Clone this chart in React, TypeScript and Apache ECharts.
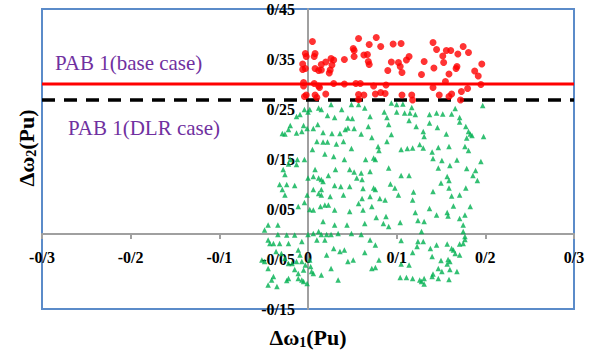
import React, { useEffect, useRef } from 'react';
import * as echarts from 'echarts';

const xTickValues = [-0.3, -0.2, -0.1, 0, 0.1, 0.2, 0.3];
const xTickLabels = ['-0/3', '-0/2', '-0/1', '0', '0/1', '0/2', '0/3'];
const yTickValues = [-0.15, -0.05, 0.05, 0.15, 0.25, 0.35, 0.45];
const yTickLabels = ['-0/15', '-0/05', '0/05', '0/15', '0/25', '0/35', '0/45'];

const baseCaseLimit = 0.3;
const dlrCaseLimit = 0.268;
const limitSpan = [-0.3, 0.3];

const baseCaseLabel = 'PAB 1(base case)';
const dlrCaseLabel = 'PAB 1(DLR case)';

// red circles
const baseCasePoints: number[][] = [
  [0.005, 0.385], [-0.003, 0.361], [-0.002, 0.355], [0.008, 0.361], [0.007, 0.355], [-0.006, 0.340], [-0.006, 0.329],
  [-0.003, 0.331], [0.008, 0.331], [0.012, 0.327], [0.015, 0.328], [0.015, 0.339], [0.020, 0.344], [0.026, 0.351],
  [0.029, 0.348], [0.027, 0.338], [0.025, 0.328], [0.041, 0.349], [0.051, 0.371], [0.052, 0.367], [0.052, 0.355],
  [0.057, 0.391], [0.063, 0.358], [0.067, 0.359], [0.068, 0.345], [0.069, 0.339], [0.069, 0.379], [0.077, 0.393],
  [0.082, 0.375], [0.090, 0.327], [0.094, 0.344], [0.096, 0.380], [0.105, 0.381], [0.102, 0.343], [0.104, 0.335],
  [0.106, 0.323], [0.111, 0.348], [0.114, 0.355], [0.128, 0.319], [0.131, 0.345], [0.141, 0.383], [0.145, 0.369],
  [0.142, 0.332], [0.152, 0.356], [0.153, 0.343], [0.156, 0.367], [0.161, 0.367], [0.167, 0.331], [0.168, 0.335],
  [0.159, 0.320], [0.169, 0.360], [0.175, 0.375], [0.181, 0.363], [0.188, 0.326], [0.192, 0.316], [0.196, 0.340],
  [-0.005, 0.303], [-0.005, 0.296], [0.007, 0.301], [0.012, 0.296], [0.029, 0.301], [0.041, 0.300], [0.054, 0.301],
  [0.059, 0.301], [0.074, 0.296], [0.076, 0.280], [0.082, 0.283], [0.087, 0.281], [0.088, 0.298], [-0.004, 0.275],
  [-0.002, 0.278], [0.008, 0.278], [0.010, 0.273], [0.020, 0.280], [0.057, 0.279], [0.063, 0.278], [0.057, 0.269],
  [0.106, 0.278], [0.117, 0.278], [0.118, 0.268], [0.141, 0.293], [0.148, 0.278], [0.155, 0.305], [0.159, 0.275],
  [0.162, 0.280], [0.173, 0.285], [0.172, 0.268], [0.180, 0.291], [0.195, 0.299], [0.013, 0.293], [0.024, 0.322],
];

// green triangles
const dlrCasePoints: number[][] = [
  [-0.004, 0.249], [0.000, 0.244], [0.002, 0.249], [0.012, 0.252], [0.015, 0.249], [0.026, 0.259], [0.038, 0.249],
  [0.049, 0.259], [0.057, 0.259], [0.064, 0.252], [-0.013, 0.235], [-0.009, 0.239], [0.022, 0.237], [0.030, 0.233],
  [0.045, 0.232], [0.050, 0.231], [0.070, 0.235], [-0.020, 0.217], [-0.022, 0.209], [-0.026, 0.200], [-0.013, 0.202],
  [-0.007, 0.205], [-0.005, 0.217], [-0.001, 0.211], [0.006, 0.211], [0.011, 0.219], [0.017, 0.203], [0.027, 0.201],
  [0.036, 0.201], [0.042, 0.209], [0.045, 0.212], [0.052, 0.211], [0.060, 0.200], [0.068, 0.215], [0.072, 0.193],
  [0.010, 0.185], [0.017, 0.184], [0.022, 0.184], [0.040, 0.185], [0.032, 0.180], [0.049, 0.171], [0.005, 0.169],
  [0.019, 0.160], [0.029, 0.155], [-0.020, 0.149], [-0.012, 0.149], [-0.004, 0.149], [0.041, 0.149], [0.065, 0.149],
  [0.074, 0.152], [-0.022, 0.140], [-0.013, 0.139], [-0.028, 0.129], [-0.026, 0.119], [0.008, 0.129], [0.031, 0.129],
  [0.047, 0.129], [0.052, 0.124], [0.060, 0.122], [0.070, 0.125], [0.061, 0.109], [0.000, 0.112], [0.006, 0.115],
  [0.012, 0.112], [0.015, 0.109], [0.017, 0.105], [0.023, 0.117], [0.030, 0.097], [0.037, 0.095], [0.047, 0.095],
  [0.055, 0.112], [-0.032, 0.099], [-0.024, 0.099], [-0.015, 0.097], [-0.029, 0.089], [0.006, 0.089], [0.015, 0.089],
  [0.062, 0.091], [0.074, 0.092], [-0.029, 0.201],
  [-0.026, 0.078], [-0.001, 0.078], [0.012, 0.081], [0.015, 0.078], [0.025, 0.075], [0.040, 0.078], [0.061, 0.071],
  [0.070, 0.075], [-0.004, 0.063], [-0.011, 0.055], [0.002, 0.049], [0.006, 0.048], [0.014, 0.055], [0.019, 0.058],
  [0.023, 0.058], [0.030, 0.048], [0.047, 0.045], [0.057, 0.061], [0.062, 0.048], [0.072, 0.055], [0.017, 0.025],
  [0.030, 0.018], [0.044, 0.018], [0.064, 0.021], [-0.045, 0.018], [-0.034, 0.018], [-0.049, 0.008], [-0.034, -0.001],
  [-0.024, -0.002], [-0.015, -0.002], [0.000, -0.001], [0.006, 0.001], [0.012, 0.005], [0.015, -0.001], [0.021, -0.001],
  [0.026, -0.001], [0.034, 0.001], [0.049, 0.001], [0.060, -0.001], [0.070, -0.012], [-0.045, -0.012], [-0.043, -0.019],
  [-0.039, -0.019], [-0.032, -0.019], [-0.022, -0.019], [-0.007, -0.015], [0.010, -0.012], [0.019, -0.012], [0.029, -0.029],
  [0.036, -0.035], [0.041, -0.032], [0.064, -0.037], [-0.036, -0.035], [-0.030, -0.039], [-0.011, -0.032], [-0.009, -0.042],
  [0.021, -0.042], [0.045, -0.055], [0.051, -0.052], [-0.052, -0.052], [-0.049, -0.055], [-0.026, -0.049], [-0.022, -0.059],
  [-0.018, -0.059], [-0.013, -0.055], [-0.007, -0.055], [-0.003, -0.062], [0.002, -0.052], [0.003, -0.065], [-0.005, -0.072],
  [-0.011, -0.079], [-0.015, -0.071], [-0.045, -0.069], [0.026, -0.069], [0.072, -0.069], [0.004, -0.075], [0.006, -0.079],
  [0.015, -0.082], [0.034, -0.092], [-0.011, -0.089], [-0.007, -0.092], [-0.022, -0.089], [-0.024, -0.093], [-0.039, -0.085],
  [-0.041, -0.092], [-0.045, -0.102], [-0.035, -0.105], [-0.005, -0.095], [-0.001, -0.099],
  [0.094, 0.262], [0.100, 0.259], [0.107, 0.260], [0.117, 0.253], [0.166, 0.251], [0.197, 0.257], [0.086, 0.244],
  [0.089, 0.233], [0.100, 0.244], [0.109, 0.242], [0.115, 0.242], [0.121, 0.239], [0.137, 0.239], [0.145, 0.242],
  [0.152, 0.240], [0.162, 0.240], [0.171, 0.233], [0.091, 0.219], [0.114, 0.227], [0.122, 0.215], [0.137, 0.222],
  [0.171, 0.224], [0.178, 0.215], [0.181, 0.205], [0.183, 0.200], [0.185, 0.197], [0.094, 0.199], [0.130, 0.205],
  [0.131, 0.195], [0.146, 0.213], [0.156, 0.200], [0.179, 0.192], [0.198, 0.195], [0.089, 0.185], [0.079, 0.175],
  [0.080, 0.167], [0.105, 0.169], [0.112, 0.171], [0.118, 0.172], [0.126, 0.179], [0.130, 0.172], [0.140, 0.164],
  [0.147, 0.173], [0.159, 0.175], [0.177, 0.175], [0.181, 0.167], [0.076, 0.149], [0.141, 0.151], [0.151, 0.147],
  [0.168, 0.148], [0.195, 0.145], [0.091, 0.132], [0.147, 0.132], [0.160, 0.137], [0.179, 0.131], [0.189, 0.127],
  [0.186, 0.117], [0.105, 0.117], [0.114, 0.117], [0.157, 0.115], [0.159, 0.107], [0.191, 0.107], [0.093, 0.100],
  [0.098, 0.092], [0.150, 0.102], [0.159, 0.092], [0.178, 0.092], [0.076, 0.089], [0.119, 0.084], [0.141, 0.085],
  [0.081, 0.071], [0.087, 0.068], [0.102, 0.078], [0.118, 0.068], [0.162, 0.076], [0.171, 0.078], [0.164, 0.056],
  [0.183, 0.055], [0.137, 0.051], [0.145, 0.038], [0.157, 0.043], [0.158, 0.036], [0.171, 0.031], [0.177, 0.038],
  [0.121, 0.043], [0.077, 0.033], [0.088, 0.035], [0.085, 0.021], [0.091, 0.015], [0.104, 0.023], [0.124, 0.027],
  [0.131, 0.025], [0.175, 0.018], [0.175, 0.005], [0.128, 0.005], [0.177, -0.005], [0.177, -0.011], [0.175, -0.019],
  [0.171, -0.020], [0.076, -0.022], [0.105, -0.013], [0.124, -0.015], [0.130, -0.015], [0.138, -0.029], [0.140, -0.045],
  [0.145, -0.022], [0.157, -0.020], [0.162, -0.029], [0.166, -0.039], [0.171, -0.042], [0.164, -0.032], [0.080, -0.052],
  [0.076, -0.067], [0.105, -0.060], [0.118, -0.037], [0.123, -0.025], [0.114, -0.062], [0.150, -0.053], [0.158, -0.051],
  [0.160, -0.055], [0.157, -0.060], [0.160, -0.071], [0.168, -0.075], [0.147, -0.069], [0.151, -0.075], [0.141, -0.080],
  [0.140, -0.085], [0.104, -0.087], [0.111, -0.087], [0.118, -0.089], [0.126, -0.092], [0.128, -0.095], [0.131, -0.089],
  [0.131, -0.100], [0.147, -0.089], [0.159, -0.091],
];

const FONT = 'Liberation Serif';

function labelFor(values: number[], labels: string[], v: number): string {
  for (let i = 0; i < values.length; i++) {
    if (Math.abs(values[i] - v) < 1e-6) return labels[i];
  }
  return '';
}

export default function App() {
  const ref = useRef<HTMLDivElement>(null);

  useEffect(() => {
    if (!ref.current) return;
    const chart = echarts.init(ref.current, null, { renderer: 'svg' });
    const axisGray = '#A0A0A0';
    const titleRich = {
      a: { fontFamily: FONT, fontSize: 22, fontWeight: 'bold', color: '#000', lineHeight: 24 },
      s: { fontFamily: FONT, fontSize: 14, fontWeight: 'bold', color: '#000', lineHeight: 10, verticalAlign: 'bottom' },
    };
    // grid: left 42, top 9, width 532, height 300 -> zero lines at x=308, y=234
    chart.setOption({
      animation: false,
      backgroundColor: '#ffffff',
      grid: {
        left: 42, top: 9, width: 532, height: 300,
        show: true, borderColor: '#5B8BC9', borderWidth: 2, backgroundColor: 'transparent',
      },
      xAxis: {
        type: 'value', min: -0.3, max: 0.3, interval: 0.1,
        position: 'bottom', offset: -75,
        axisLine: { onZero: false, lineStyle: { color: axisGray, width: 2 } },
        axisTick: { show: true, length: 5, lineStyle: { color: axisGray, width: 2 } },
        axisLabel: {
          formatter: (v: number) => labelFor(xTickValues, xTickLabels, v),
          fontFamily: FONT, fontWeight: 'bold', fontSize: 16, color: '#000', margin: 15,
        },
        splitLine: { show: false },
      },
      yAxis: {
        type: 'value', min: -0.15, max: 0.45, interval: 0.05,
        position: 'left', offset: -266,
        axisLine: { onZero: false, lineStyle: { color: axisGray, width: 2 } },
        axisTick: { show: false },
        axisLabel: {
          formatter: (v: number) => labelFor(yTickValues, yTickLabels, v),
          fontFamily: FONT, fontWeight: 'bold', fontSize: 16, color: '#000', margin: 13,
        },
        splitLine: { show: false },
      },
      series: [
        {
          type: 'scatter', name: 'DLR', data: dlrCasePoints, symbol: 'triangle', symbolSize: 5.5,
          itemStyle: { color: '#00B050' }, z: 2,
        },
        {
          type: 'line', data: limitSpan.map((x) => [x, dlrCaseLimit]), symbol: 'none',
          lineStyle: { color: '#000', width: 3.5, type: [13, 9] }, z: 3,
        },
        {
          type: 'line', data: limitSpan.map((x) => [x, baseCaseLimit]), symbol: 'none',
          lineStyle: { color: '#FF0000', width: 3 }, z: 4,
        },
        {
          type: 'scatter', name: 'base', data: baseCasePoints, symbol: 'circle', symbolSize: 7,
          itemStyle: { color: '#FF0000' }, z: 5,
        },
      ],
      graphic: [
        {
          type: 'text', x: 55, y: 63, z: 10,
          style: { text: baseCaseLabel, fill: '#7030A0', fontFamily: FONT, fontSize: 21,
            align: 'left', verticalAlign: 'middle', textAlign: 'left', textVerticalAlign: 'middle' },
        },
        {
          type: 'text', x: 68, y: 128, z: 10,
          style: { text: dlrCaseLabel, fill: '#7030A0', fontFamily: FONT, fontSize: 21,
            align: 'left', verticalAlign: 'middle', textAlign: 'left', textVerticalAlign: 'middle' },
        },
        {
          type: 'text', x: 308, y: 337, z: 10,
          style: { text: '{a|Δω}{s|1}{a|(Pu)}', rich: titleRich,
            align: 'center', verticalAlign: 'middle', textAlign: 'center', textVerticalAlign: 'middle' },
        },
        {
          type: 'text', x: 26, y: 148, rotation: Math.PI / 2, z: 10,
          style: { text: '{a|Δω}{s|2}{a|(Pu)}', rich: titleRich,
            align: 'center', verticalAlign: 'middle', textAlign: 'center', textVerticalAlign: 'middle' },
        },
      ],
    });
    return () => chart.dispose();
  }, []);

  return <div ref={ref} style={{ position: 'fixed', left: 0, top: 0, width: 597, height: 351, background: '#fff' }} />;
}
